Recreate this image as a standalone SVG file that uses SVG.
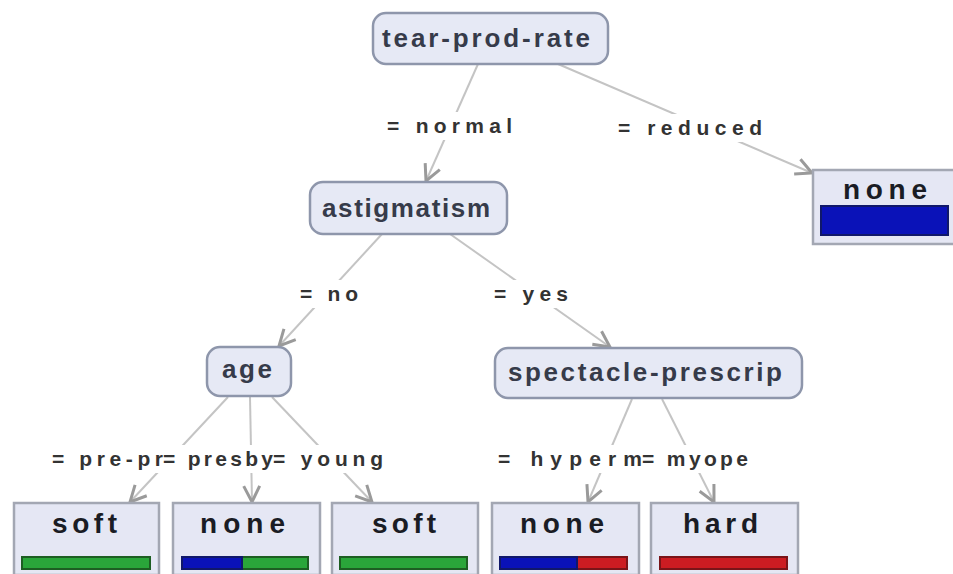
<svg xmlns="http://www.w3.org/2000/svg" width="953" height="574" viewBox="0 0 953 574">
  <defs>
    <marker id="arrow" markerUnits="userSpaceOnUse" markerWidth="30" markerHeight="30" refX="0" refY="0" viewBox="-20 -15 30 30" orient="auto" overflow="visible">
      <path d="M-16,-8 L0,0 L-16,8" fill="none" stroke="#9a9a9a" stroke-width="3" stroke-linejoin="miter"/>
    </marker>
  </defs>
  <style>
    .node rect { fill: #e6e9f5; stroke: #8e96ab; stroke-width: 2.5; }
    .leaf rect.box { fill: #e5e7f4; stroke: #a3a7b3; stroke-width: 2.5; }
    .ntext { font-family: "Liberation Sans", Arial, sans-serif; font-weight: bold; font-size: 26px; fill: #363b4a; }
    .ltext { font-family: "Liberation Sans", Arial, sans-serif; font-weight: bold; font-size: 28px; fill: #1a1c24; }
    .elabel { font-family: "Liberation Sans", Arial, sans-serif; font-weight: bold; font-size: 21px; fill: #333333; }
    .edge { stroke: #c4c4c4; stroke-width: 2; fill: none; marker-end: url(#arrow); }
    .lbg { fill: #ffffff; }
    .green { fill: #2aa63a; stroke: #1d5e22; stroke-width: 2; }
    .blue { fill: #0a12b8; stroke: #10186a; stroke-width: 2; }
    .red { fill: #cc1c22; stroke: #7a1418; stroke-width: 2; }
  </style>
  <rect width="953" height="574" fill="#ffffff"/>

  <!-- connectors with their branch labels -->
  <g id="connectors">
    <line class="edge" x1="478" y1="64" x2="426" y2="181"/>
    <line class="edge" x1="558" y1="64" x2="812" y2="173"/>
    <line class="edge" x1="382" y1="234" x2="279" y2="346"/>
    <line class="edge" x1="450" y1="234" x2="610" y2="347"/>
    <line class="edge" x1="228" y1="397" x2="130" y2="502"/>
    <line class="edge" x1="250" y1="397" x2="252" y2="502"/>
    <line class="edge" x1="272" y1="397" x2="372" y2="502"/>
    <line class="edge" x1="632" y1="399" x2="588" y2="502"/>
    <line class="edge" x1="662" y1="399" x2="714" y2="502"/>

    <rect class="lbg" x="384" y="112" width="132" height="28"/>
    <text class="elabel" x="387" y="133" textLength="125" lengthAdjust="spacing">= normal</text>
    <rect class="lbg" x="615" y="114" width="150" height="28"/>
    <text class="elabel" x="618" y="135" textLength="144" lengthAdjust="spacing">= reduced</text>
    <rect class="lbg" x="297" y="280" width="64" height="28"/>
    <text class="elabel" x="300" y="301" textLength="58" lengthAdjust="spacing">= no</text>
    <rect class="lbg" x="491" y="280" width="80" height="28"/>
    <text class="elabel" x="494" y="301" textLength="74" lengthAdjust="spacing">= yes</text>

    <rect class="lbg" x="49" y="445" width="336" height="28"/>
    <text class="elabel" x="52" y="466" textLength="111" lengthAdjust="spacing">= pre-pr</text>
    <text class="elabel" x="163" y="466" textLength="110" lengthAdjust="spacing">= presby</text>
    <text class="elabel" x="273" y="466" textLength="110" lengthAdjust="spacing">= young</text>

    <rect class="lbg" x="495" y="445" width="258" height="28"/>
    <text class="elabel" x="498" y="466" textLength="144" lengthAdjust="spacing">= hyperm</text>
    <text class="elabel" x="642" y="466" textLength="106" lengthAdjust="spacing">= myope</text>
  </g>

  <!-- decision nodes -->
  <g id="tear-prod-rate" class="node">
    <rect x="373" y="13" width="235" height="51" rx="13"/>
    <text class="ntext" x="382" y="47" textLength="208" lengthAdjust="spacing">tear-prod-rate</text>
  </g>
  <g id="astigmatism" class="node">
    <rect x="310" y="182" width="197" height="52" rx="13"/>
    <text class="ntext" x="322" y="217" textLength="168" lengthAdjust="spacing">astigmatism</text>
  </g>
  <g id="age" class="node">
    <rect x="207" y="347" width="84" height="49" rx="13"/>
    <text class="ntext" x="222" y="378" textLength="50" lengthAdjust="spacing">age</text>
  </g>
  <g id="spectacle-prescrip" class="node">
    <rect x="495" y="348" width="307" height="50" rx="13"/>
    <text class="ntext" x="508" y="381" textLength="274" lengthAdjust="spacing">spectacle-prescrip</text>
  </g>

  <!-- leaves with class distribution bars -->
  <g id="leaf-reduced-none" class="leaf">
    <rect class="box" x="813" y="170" width="150" height="74"/>
    <text class="ltext" x="843" y="199" textLength="84" lengthAdjust="spacing">none</text>
    <rect class="blue" x="821" y="206" width="127" height="29"/>
  </g>
  <g id="leaf-prepr-soft" class="leaf">
    <rect class="box" x="14" y="503" width="145" height="72"/>
    <text class="ltext" x="52" y="533" textLength="65" lengthAdjust="spacing">soft</text>
    <rect class="green" x="22" y="557" width="128" height="12"/>
  </g>
  <g id="leaf-presby-none" class="leaf">
    <rect class="box" x="173" y="503" width="147" height="72"/>
    <text class="ltext" x="200" y="533" textLength="85" lengthAdjust="spacing">none</text>
    <rect class="green" x="182" y="557" width="126" height="12"/>
    <rect class="blue" x="182" y="557" width="60" height="12"/>
  </g>
  <g id="leaf-young-soft" class="leaf">
    <rect class="box" x="332" y="503" width="146" height="72"/>
    <text class="ltext" x="372" y="533" textLength="64" lengthAdjust="spacing">soft</text>
    <rect class="green" x="340" y="557" width="127" height="12"/>
  </g>
  <g id="leaf-hyperm-none" class="leaf">
    <rect class="box" x="492" y="503" width="147" height="72"/>
    <text class="ltext" x="520" y="533" textLength="84" lengthAdjust="spacing">none</text>
    <rect class="red" x="500" y="557" width="127" height="12"/>
    <rect class="blue" x="500" y="557" width="77" height="12"/>
  </g>
  <g id="leaf-myope-hard" class="leaf">
    <rect class="box" x="651" y="503" width="147" height="72"/>
    <text class="ltext" x="683" y="533" textLength="75" lengthAdjust="spacing">hard</text>
    <rect class="red" x="660" y="557" width="127" height="12"/>
  </g>
</svg>
